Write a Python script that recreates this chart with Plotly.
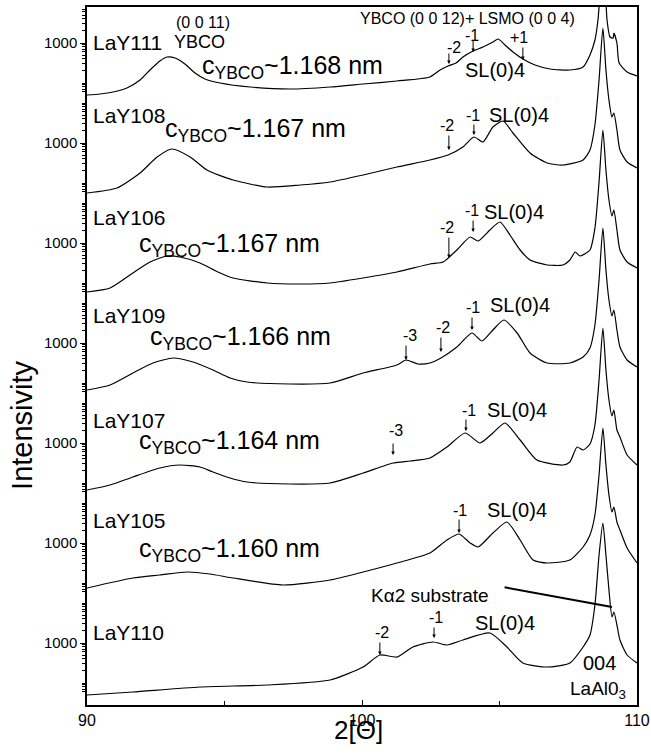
import math
import plotly.graph_objects as go

# ---------------- data (2-theta in degrees, log10 of counts) -------------
sample_names = ["LaY111", "LaY108", "LaY106", "LaY109", "LaY107", "LaY105", "LaY110"]
c_ybco_nm = ["1.168", "1.167", "1.167", "1.166", "1.164", "1.160", None]
y_tick_label = "1000"

two_theta_1 = [90.00, 90.47, 90.95, 91.45, 91.93, 92.29, 92.65, 92.91, 93.20, 93.56, 93.93, 94.29, 94.84, 95.93,
               97.38, 98.84, 100.04, 101.27, 102.47, 102.84, 103.13, 103.42, 103.67, 104.04, 104.40, 104.76, 104.95,
               105.20, 105.49, 105.85, 106.29, 106.84, 107.56, 108.04, 108.29, 108.47, 108.58, 108.66, 108.76, 108.87,
               108.91, 109.02, 109.13, 109.16, 109.27, 109.35, 109.64, 110.00]
log_counts_1 = [1.70, 1.725, 1.775, 1.875, 2.075, 2.325, 2.55, 2.65, 2.625, 2.475, 2.25, 2.10, 2.00, 1.90,
                1.85, 1.90, 1.975, 2.05, 2.15, 2.325, 2.425, 2.50, 2.65, 2.80, 2.90, 3.025, 3.10,
                2.95, 2.775, 2.60, 2.45, 2.35, 2.325, 2.40, 2.70, 3.075, 3.575, 4.325, 5.875, 4.075,
                3.575, 3.15, 3.125, 3.25, 3.0, 2.50, 2.275, 2.175]

two_theta_2 = [90.00, 91.09, 91.93, 92.55, 93.09, 93.75, 94.36, 95.31, 96.55, 97.75, 98.84, 100.04, 101.27, 102.47,
               103.13, 103.67, 104.07, 104.40, 104.76, 105.13, 105.49, 106.11, 106.73, 107.31, 108.04, 108.29, 108.47,
               108.62, 108.76, 108.87, 108.98, 109.09, 109.16, 109.27, 109.38, 109.64, 110.00]
log_counts_2 = [1.75, 1.875, 2.25, 2.65, 2.85, 2.65, 2.325, 2.075, 1.90, 1.95, 2.025, 2.20, 2.40, 2.575,
                2.70, 2.90, 3.15, 3.025, 3.40, 3.55, 3.25, 2.75, 2.50, 2.45, 2.575, 2.825, 3.45,
                4.575, 5.875, 4.825, 4.075, 3.65, 3.75, 3.325, 2.825, 2.525, 2.375]

two_theta_3 = [90.00, 90.84, 91.67, 92.29, 92.91, 93.38, 94.11, 94.76, 95.31, 96.55, 97.75, 98.84, 100.04, 101.27,
               102.47, 102.95, 103.45, 103.93, 104.22, 104.65, 105.02, 105.38, 105.75, 106.11, 106.73, 107.31, 107.56,
               107.75, 107.93, 108.29, 108.47, 108.62, 108.76, 108.87, 108.98, 109.09, 109.16, 109.27, 109.38, 109.64,
               110.00]
log_counts_3 = [1.775, 1.875, 2.25, 2.525, 2.675, 2.65, 2.50, 2.275, 2.125, 2.00, 1.975, 2.00, 2.125, 2.275,
                2.475, 2.525, 2.825, 3.15, 3.05, 3.325, 3.525, 3.20, 2.825, 2.575, 2.45, 2.45, 2.575,
                2.775, 2.675, 2.825, 3.375, 4.525, 5.825, 4.825, 4.075, 3.675, 3.825, 3.325, 2.825, 2.525,
                2.375]

two_theta_4 = [90.00, 90.84, 91.67, 92.40, 93.13, 93.85, 94.58, 95.20, 95.82, 97.38, 98.84, 100.04, 101.27, 101.60,
               102.04, 102.47, 102.87, 103.45, 104.00, 104.36, 104.76, 105.16, 105.64, 106.11, 106.73, 107.56, 108.04,
               108.29, 108.47, 108.62, 108.76, 108.87, 108.98, 109.09, 109.16, 109.27, 109.38, 109.64, 110.00]
log_counts_4 = [1.825, 1.95, 2.25, 2.50, 2.625, 2.525, 2.325, 2.125, 2.025, 1.975, 2.00, 2.25, 2.45, 2.575,
                2.475, 2.50, 2.625, 2.90, 3.25, 3.05, 3.325, 3.575, 3.25, 2.75, 2.50, 2.50, 2.65,
                2.875, 3.45, 4.575, 5.875, 4.825, 4.075, 3.675, 3.825, 3.325, 2.90, 2.575, 2.40]

two_theta_5 = [90.00, 90.84, 91.67, 92.65, 93.38, 94.11, 94.58, 95.20, 95.82, 97.38, 98.84, 100.04, 101.13, 101.75,
               102.47, 103.09, 103.75, 104.29, 104.76, 105.20, 105.75, 106.36, 107.31, 107.56, 107.82, 108.04, 108.29,
               108.47, 108.62, 108.76, 108.87, 108.98, 109.09, 109.16, 109.27, 109.38, 109.64, 110.00]
log_counts_5 = [1.825, 1.95, 2.15, 2.375, 2.45, 2.40, 2.275, 2.125, 2.025, 1.975, 2.00, 2.25, 2.50, 2.55,
                2.625, 2.90, 3.25, 3.00, 3.25, 3.50, 3.075, 2.575, 2.45, 2.525, 2.90, 2.825, 2.975,
                3.45, 4.575, 5.875, 4.825, 4.075, 3.675, 3.825, 3.325, 3.15, 2.70, 2.45]

two_theta_6 = [90.00, 91.67, 92.65, 93.64, 94.47, 95.31, 97.13, 98.84, 100.04, 101.27, 102.47, 103.09, 103.53, 103.93,
               104.22, 104.76, 105.27, 105.75, 106.22, 106.73, 107.56, 108.04, 108.29, 108.47, 108.62, 108.76, 108.87,
               108.98, 109.09, 109.16, 109.27, 109.38, 109.64, 110.00]
log_counts_6 = [1.875, 2.125, 2.20, 2.275, 2.225, 2.125, 1.95, 2.075, 2.275, 2.50, 2.75, 3.075, 3.225, 3.00,
                2.90, 3.25, 3.525, 3.075, 2.575, 2.50, 2.575, 2.90, 3.20, 3.70, 4.70, 5.875, 4.95,
                4.20, 3.775, 3.90, 3.525, 3.325, 2.875, 2.50]

two_theta_7 = [90.00, 91.67, 94.11, 96.55, 98.84, 100.04, 100.65, 101.27, 101.85, 102.58, 103.09, 103.67, 104.65,
               105.27, 105.85, 106.73, 107.56, 108.04, 108.29, 108.47, 108.62, 108.76, 108.87, 108.98, 109.09, 109.16,
               109.27, 109.38, 109.64, 110.00]
log_counts_7 = [1.70, 1.775, 1.90, 1.95, 2.075, 2.40, 2.70, 2.65, 2.90, 3.025, 2.95, 3.075, 3.25,
                2.90, 2.50, 2.40, 2.50, 2.90, 3.20, 3.95, 5.20, 6.00, 5.20, 4.325, 3.65, 3.775,
                3.45, 3.075, 2.70, 2.50]

curves_x = [two_theta_1, two_theta_2, two_theta_3, two_theta_4, two_theta_5, two_theta_6, two_theta_7]
curves_logI = [log_counts_1, log_counts_2, log_counts_3, log_counts_4, log_counts_5, log_counts_6, log_counts_7]

# peak annotations: (curve, label, label x, label logI, arrow tip x, arrow tip logI, arrow length px)
peak_marks = [
    (0, "-2", 103.35, 2.90, 103.16, 2.475, 12),
    (0, "-1", 104.00, 3.20, 104.04, 2.775, 13),
    (0, "+1", 105.71, 3.15, 105.85, 2.575, 14),
    (1, "-2", 103.09, 3.45, 103.16, 2.825, 16),
    (1, "-1", 104.04, 3.70, 104.07, 3.20, 12),
    (2, "-2", 103.09, 3.40, 103.16, 2.625, 22),
    (2, "-1", 104.00, 3.825, 104.04, 3.275, 13),
    (3, "-3", 101.75, 3.20, 101.60, 2.575, 16),
    (3, "-2", 102.95, 3.40, 102.87, 2.775, 16),
    (3, "-1", 104.04, 3.90, 104.00, 3.325, 14),
    (4, "-3", 101.24, 3.325, 101.13, 2.70, 13),
    (4, "-1", 103.89, 3.825, 103.78, 3.30, 13),
    (5, "-1", 103.56, 3.825, 103.53, 3.25, 15),
    (6, "-2", 100.73, 3.275, 100.65, 2.70, 14),
    (6, "-1", 102.69, 3.65, 102.62, 3.125, 12),
]
# SL(0)4 label centres: (curve, x, logI)
sl_labels = [(0, 104.84, 2.325), (1, 105.71, 3.70), (2, 105.53, 3.775), (3, 105.75, 3.95),
             (4, 105.64, 3.825), (5, 105.64, 3.825), (6, 105.20, 3.50)]
# sample name (left) and lattice label positions: (name logI, c label x, c label logI)
name_logI = [3.025, 3.70, 3.65, 3.70, 3.575, 3.575, 3.275]
c_label_x = [94.11, 92.76, 91.82, 92.22, 91.82, 91.82, None]
c_label_logI = [2.40, 3.33, 2.95, 3.13, 3.03, 2.83, None]

# ---------------- stacking (each curve shifted by 2.5 decades) ----------------
DECADES_BETWEEN = 2.5
TOP_SHIFT = 13.55


def Y(k, logI):
    return logI + TOP_SHIFT - DECADES_BETWEEN * k


FONT = "Liberation Sans, Arial, Helvetica, sans-serif"
fig = go.Figure()
for k in range(len(sample_names)):
    fig.add_trace(go.Scatter(x=curves_x[k], y=[Y(k, v) for v in curves_logI[k]], mode="lines",
                             line=dict(color="black", width=1.2, shape="spline", smoothing=0.6),
                             showlegend=False, hoverinfo="skip"))

ann = []
for k, name in enumerate(sample_names):
    ann.append(dict(x=90.15, y=Y(k, name_logI[k]), text=name, xanchor="left", yanchor="middle",
                    showarrow=False, font=dict(size=21)))
    if c_ybco_nm[k]:
        ann.append(dict(x=c_label_x[k], y=Y(k, c_label_logI[k]),
                        text="c<sub>YBCO</sub>~" + c_ybco_nm[k] + " nm",
                        xanchor="left", yanchor="middle", showarrow=False, font=dict(size=25)))
for (k, x, l) in sl_labels:
    ann.append(dict(x=x, y=Y(k, l), text="SL(0)4", showarrow=False, font=dict(size=20)))
for (k, lab, lx, ll, tx, tl, alen) in peak_marks:
    ann.append(dict(x=lx, y=Y(k, ll), text=lab, showarrow=False, font=dict(size=16)))
    ann.append(dict(x=tx, y=Y(k, tl), text="", showarrow=True, ax=0, ay=-alen, arrowhead=2,
                    arrowsize=0.7, arrowwidth=1, arrowcolor="black"))

ann += [
    dict(x=94.22, y=Y(0, 3.525), text="(0 0 11)", showarrow=False, font=dict(size=16)),
    dict(x=94.09, y=Y(0, 3.025), text="YBCO", showarrow=False, font=dict(size=18)),
    dict(x=103.85, y=Y(0, 3.625), text="YBCO (0 0 12)+ LSMO (0 0 4)", showarrow=False, font=dict(size=16)),
    dict(x=102.47, y=Y(6, 4.20), text="Kα2 substrate", showarrow=False, font=dict(size=19)),
    dict(x=108.65, y=Y(6, 2.50), text="004", showarrow=False, font=dict(size=20)),
    dict(x=108.58, y=Y(6, 1.83), text="LaAl0<sub>3</sub>", showarrow=False, font=dict(size=19)),
    dict(x=109.09, y=Y(6, 3.90), ax=105.13, ay=Y(6, 4.40), axref="x", ayref="y", text="",
         showarrow=True, arrowhead=0, arrowwidth=2, arrowcolor="black"),
    dict(x=-0.118, y=0.40, xref="paper", yref="paper", xanchor="center", yanchor="middle",
         text="Intensivity", textangle=-90, showarrow=False, font=dict(size=29)),
    dict(x=0.493, y=-0.036, xref="paper", yref="paper", xanchor="center", yanchor="middle",
         text="2[Θ]", showarrow=False, font=dict(size=26)),
]

# y ticks: one "1000" per curve plus log minor ticks around it
major_vals = [Y(k, 3) for k in range(len(sample_names))]
minor_vals = []
for k in range(len(sample_names)):
    for n in range(1, 6):
        for m in range(1, 10):
            lv = n + math.log10(m)
            if 1.75 <= lv < 4.25 and abs(lv - 3) > 1e-9:
                minor_vals.append(Y(k, lv))

fig.update_layout(
    width=651, height=755,
    margin=dict(l=87, r=14, t=7, b=50, autoexpand=False),
    paper_bgcolor="white", plot_bgcolor="white",
    font=dict(family=FONT, color="black"),
    annotations=ann,
    xaxis=dict(range=[90, 110], tickvals=[90, 100, 110], ticktext=["90", "100", "110"],
               ticks="inside", ticklen=5, tickcolor="black", showgrid=False, zeroline=False,
               showline=True, linecolor="black", linewidth=1.5, mirror=True, automargin=False,
               tickfont=dict(size=16),
               minor=dict(tickmode="array", tickvals=[95, 105], ticks="inside", ticklen=4,
                          tickcolor="black")),
    yaxis=dict(range=[0, 17.45], tickvals=major_vals, ticktext=[y_tick_label] * len(major_vals),
               ticks="outside", ticklen=5, tickcolor="black", showgrid=False, zeroline=False,
               showline=True, linecolor="black", linewidth=1.5, mirror=True, automargin=False,
               tickfont=dict(size=15),
               minor=dict(tickmode="array", tickvals=minor_vals, ticks="outside", ticklen=3,
                          tickcolor="black")),
)

fig.write_html("out.html")
